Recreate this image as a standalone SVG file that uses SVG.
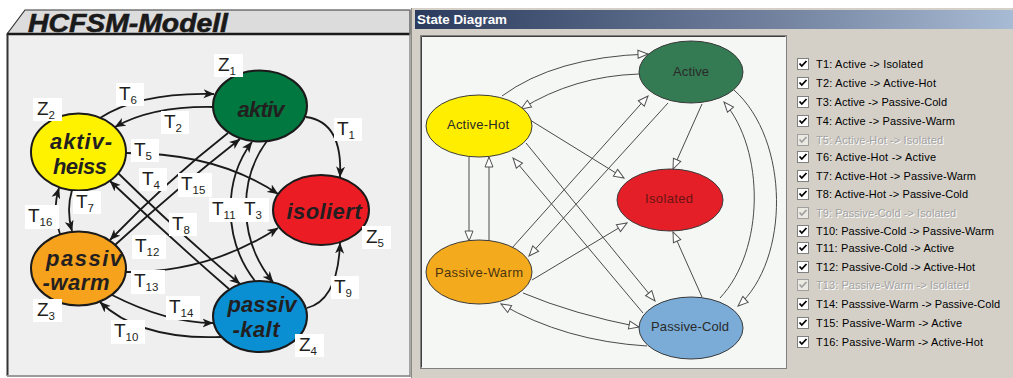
<svg xmlns="http://www.w3.org/2000/svg" width="1013" height="378" viewBox="0 0 1013 378">
<defs>
  <linearGradient id="tb" x1="0" x2="1" y1="0" y2="0">
    <stop offset="0" stop-color="#2b3b5d"/>
    <stop offset="0.6" stop-color="#71819e"/>
    <stop offset="1" stop-color="#a8bbd4"/>
  </linearGradient>
  <marker id="ab" markerUnits="userSpaceOnUse" markerWidth="12" markerHeight="10" refX="10.5" refY="5" orient="auto">
    <path d="M0,0.5 L11,5 L0,9.5 L3,5 z" fill="#1a1a1a"/>
  </marker>
  <marker id="ah" markerUnits="userSpaceOnUse" markerWidth="13" markerHeight="11" refX="11" refY="5.5" orient="auto">
    <path d="M1,1.5 L11,5.5 L1,9.5 z" fill="#ffffff" stroke="#505050" stroke-width="1"/>
  </marker>
  <path id="chk" d="M2.5,5.5 L4.8,8 L9.5,3" fill="none" stroke-width="1.8"/>
</defs>
<style>
  .le{fill:none;stroke:#1a1a1a;stroke-width:1.8;marker-end:url(#ab)}
  .re{fill:none;stroke:#4a4a4a;stroke-width:1;marker-end:url(#ah)}
  .ln{stroke:#1a1a1a;stroke-width:2}
  .nl{font-family:"Liberation Sans",Arial,sans-serif;font-weight:bold;font-style:italic;font-size:22px;fill:#231f20;text-anchor:middle}
  .lb{fill:#ffffff}
  .lt{font-family:"Liberation Sans",Arial,sans-serif;font-size:19px;fill:#231f20}
  .sb{font-size:11.5px}
  .rn{stroke:#3a3a3a;stroke-width:1}
  .rt{font-family:"Liberation Sans",Arial,sans-serif;font-size:13px;fill:#2a2a2a;text-anchor:middle}
  .it{font-family:"Liberation Sans",Arial,sans-serif;font-size:11px;fill:#000000}
  .dis{fill:#a3a3a3}
  .sh{fill:#ffffff}
  .cb{fill:#ffffff;stroke:#808080;stroke-width:1}
  .cbd{fill:#ece9e2;stroke:#a0a0a0;stroke-width:1}
</style>

<rect x="0" y="0" width="1013" height="378" fill="#ffffff"/>

<g id="left-panel">
  <rect x="7" y="34" width="403" height="342" fill="#efefef"/>
  <polygon points="7,34 25,10 410,10 410,34" fill="#dcdcdc" stroke="#333333" stroke-width="1.2"/>
  <line x1="7" y1="34" x2="410" y2="34" stroke="#1a1a1a" stroke-width="2.5"/>
  <line x1="7.5" y1="34" x2="7.5" y2="376" stroke="#333333" stroke-width="2"/>
  <line x1="7" y1="376" x2="410" y2="376" stroke="#9a9a9a" stroke-width="2"/>
  <line x1="410" y1="10" x2="410" y2="377" stroke="#8a8a8a" stroke-width="1.5"/>
  <text x="28" y="32" font-family="'Liberation Sans',Arial,sans-serif" font-size="26" font-weight="bold" font-style="italic" fill="#1a1a1a" stroke="#1a1a1a" stroke-width="0.6" textLength="200" lengthAdjust="spacingAndGlyphs">HCFSM-Modell</text>
</g>

<g id="left-connectors">
  <path id="lT1" class="le" d="M306,117 Q343,122 340,177"/>
  <path id="lT2" class="le" d="M213,107 Q152,106 115,127"/>
  <path id="lT3" class="le" d="M267,141 C238,180 238,240 273,282"/>
  <path id="lT4" class="le" d="M228,133 Q168,180 110,240"/>
  <path id="lT5" class="le" d="M126,153 Q217,153 278,194"/>
  <path id="lT6" class="le" d="M100,118 Q140,92 214,94"/>
  <path id="lT7" class="le" d="M72,190 Q66,210 72,231"/>
  <path id="lT8" class="le" d="M118,173 Q178,232 240,284"/>
  <path id="lT9" class="le" d="M307,308 Q338,300 340,243"/>
  <path id="lT10" class="le" d="M221,337 Q140,340 100,302"/>
  <path id="lT11" class="le" d="M255,281 C223,240 223,180 252,142"/>
  <path id="lT12" class="le" d="M229,289 Q168,236 110,181"/>
  <path id="lT13" class="le" d="M126,272 Q208,273 278,228"/>
  <path id="lT14" class="le" d="M112,295 Q167,323 213,323"/>
  <path id="lT15" class="le" d="M115,245 Q175,190 240,139"/>
  <path id="lT16" class="le" d="M60,234 Q52,210 59,188"/>
</g>

<g id="node-aktiv">
  <ellipse cx="260" cy="106" rx="47" ry="35.5" fill="#00783f" class="ln"/>
  <text class="nl" x="261" y="117" textLength="47">aktiv</text>
  <rect class="lb" x="214" y="54" width="29" height="23"/>
  <text class="lt" x="218" y="71">Z<tspan class="sb" dy="4">1</tspan></text>
</g>
<g id="node-aktiv-heiss">
  <ellipse cx="78.5" cy="152" rx="47.5" ry="38.5" fill="#fff200" class="ln"/>
  <text class="nl" x="81" y="149" textLength="62">aktiv-</text>
  <text class="nl" x="80" y="174" textLength="54">heiss</text>
  <rect class="lb" x="33" y="98" width="29" height="23"/>
  <text class="lt" x="37" y="115">Z<tspan class="sb" dy="4">2</tspan></text>
</g>
<g id="node-isoliert">
  <ellipse cx="321" cy="210" rx="48" ry="35" fill="#ec1c24" class="ln"/>
  <text class="nl" x="324" y="219" textLength="75">isoliert</text>
  <rect class="lb" x="362" y="226" width="29" height="23"/>
  <text class="lt" x="366" y="243">Z<tspan class="sb" dy="4">5</tspan></text>
</g>
<g id="node-passiv-warm">
  <ellipse cx="78.5" cy="268.5" rx="47.5" ry="37" fill="#f6a21d" class="ln"/>
  <text class="nl" x="84" y="266" textLength="76">passiv</text>
  <text class="nl" x="76" y="290" textLength="67">-warm</text>
  <rect class="lb" x="33" y="299" width="29" height="23"/>
  <text class="lt" x="37" y="316">Z<tspan class="sb" dy="4">3</tspan></text>
</g>
<g id="node-passiv-kalt">
  <ellipse cx="260" cy="316.5" rx="47" ry="35.5" fill="#0b8fd3" class="ln"/>
  <text class="nl" x="262" y="312" textLength="69">passiv</text>
  <text class="nl" x="256" y="337" textLength="47">-kalt</text>
  <rect class="lb" x="295" y="334" width="29" height="23"/>
  <text class="lt" x="299" y="351">Z<tspan class="sb" dy="4">4</tspan></text>
</g>

<g id="left-edge-labels">
  <rect class="lb" x="116" y="83" width="28" height="23"/><text class="lt" x="119" y="100">T<tspan class="sb" dy="4">6</tspan></text>
  <rect class="lb" x="161" y="111" width="28" height="23"/><text class="lt" x="164" y="128">T<tspan class="sb" dy="4">2</tspan></text>
  <rect class="lb" x="334" y="118" width="28" height="23"/><text class="lt" x="337" y="135">T<tspan class="sb" dy="4">1</tspan></text>
  <rect class="lb" x="131" y="139" width="28" height="23"/><text class="lt" x="134" y="156">T<tspan class="sb" dy="4">5</tspan></text>
  <rect class="lb" x="139" y="168" width="28" height="23"/><text class="lt" x="142" y="185">T<tspan class="sb" dy="4">4</tspan></text>
  <rect class="lb" x="178" y="173" width="34" height="24"/><text class="lt" x="181" y="190">T<tspan class="sb" dy="4">15</tspan></text>
  <rect class="lb" x="209" y="198" width="34" height="24"/><text class="lt" x="212" y="215">T<tspan class="sb" dy="4">11</tspan></text>
  <rect class="lb" x="242" y="198" width="27" height="24"/><text class="lt" x="244" y="215">T<tspan class="sb" dy="4">3</tspan></text>
  <rect class="lb" x="73" y="191" width="28" height="23"/><text class="lt" x="76" y="208">T<tspan class="sb" dy="4">7</tspan></text>
  <rect class="lb" x="25" y="205" width="34" height="24"/><text class="lt" x="28" y="222">T<tspan class="sb" dy="4">16</tspan></text>
  <rect class="lb" x="169" y="213" width="28" height="23"/><text class="lt" x="172" y="230">T<tspan class="sb" dy="4">8</tspan></text>
  <rect class="lb" x="132" y="235" width="34" height="24"/><text class="lt" x="135" y="252">T<tspan class="sb" dy="4">12</tspan></text>
  <rect class="lb" x="131" y="270" width="34" height="24"/><text class="lt" x="134" y="287">T<tspan class="sb" dy="4">13</tspan></text>
  <rect class="lb" x="166" y="296" width="34" height="24"/><text class="lt" x="169" y="313">T<tspan class="sb" dy="4">14</tspan></text>
  <rect class="lb" x="111" y="320" width="34" height="24"/><text class="lt" x="114" y="337">T<tspan class="sb" dy="4">10</tspan></text>
  <rect class="lb" x="331" y="276" width="28" height="23"/><text class="lt" x="334" y="293">T<tspan class="sb" dy="4">9</tspan></text>
</g>

<g id="right-panel">
  <rect x="411" y="8" width="602" height="370" fill="#d4d0c8"/>
  <line x1="411.5" y1="8" x2="411.5" y2="378" stroke="#8c8a85" stroke-width="1"/>
  <rect x="415" y="10" width="598" height="19" fill="url(#tb)"/>
  <text x="417" y="24" font-family="'Liberation Sans',Arial,sans-serif" font-size="13" font-weight="bold" fill="#ffffff" textLength="90" lengthAdjust="spacingAndGlyphs">State Diagram</text>
  <rect x="420.5" y="35.5" width="366" height="333" fill="#f5f7f5" stroke="#808080" stroke-width="1"/>
  <line x1="421.5" y1="36.5" x2="785.5" y2="36.5" stroke="#404040" stroke-width="1"/>
  <line x1="421.5" y1="36.5" x2="421.5" y2="367.5" stroke="#404040" stroke-width="1"/>
</g>

<g id="right-connectors">
  <path id="rT1" class="re" d="M702,104 L673,169"/>
  <path id="rT2" class="re" d="M639,74 Q574,76 521,109"/>
  <path id="rT3" class="re" d="M734,90 C790,140 790,260 738,306"/>
  <path id="rT4" class="re" d="M668,103 L529,256"/>
  <path id="rT5" class="re" d="M530,120 L624,178"/>
  <path id="rT6" class="re" d="M502,96 Q555,57 648,54"/>
  <path id="rT7" class="re" d="M469,157 L469,241"/>
  <path id="rT8" class="re" d="M526,143 L655,301"/>
  <path id="rT9" class="re" d="M702,297 L673,232"/>
  <path id="rT10" class="re" d="M647,346 Q565,341 501,304"/>
  <path id="rT11" class="re" d="M720,298 C765,250 765,150 724,102"/>
  <path id="rT12" class="re" d="M643,313 L513,158"/>
  <path id="rT13" class="re" d="M532,280 L627,223"/>
  <path id="rT14" class="re" d="M523,293 Q573,314 639,327"/>
  <path id="rT15" class="re" d="M512,248 L648,96"/>
  <path id="rT16" class="re" d="M489,241 L489,157"/>
</g>

<g id="node-Active">
  <ellipse class="rn" cx="691" cy="72" rx="52" ry="31" fill="#347a53"/>
  <text class="rt" x="691" y="76" textLength="36">Active</text>
</g>
<g id="node-Active-Hot">
  <ellipse class="rn" cx="479" cy="126" rx="53" ry="31" fill="#ffee00"/>
  <text class="rt" x="478" y="129" textLength="62">Active-Hot</text>
</g>
<g id="node-Isolated">
  <ellipse class="rn" cx="670" cy="200" rx="53" ry="31" fill="#e51f27"/>
  <text class="rt" x="669" y="203" textLength="48" style="fill:#6a1414">Isolated</text>
</g>
<g id="node-Passive-Warm">
  <ellipse class="rn" cx="479" cy="272" rx="53" ry="32" fill="#f4aa1d"/>
  <text class="rt" x="479" y="277" textLength="88" style="fill:#4a3510">Passive-Warm</text>
</g>
<g id="node-Passive-Cold">
  <ellipse class="rn" cx="691" cy="328" rx="52" ry="31" fill="#7aacd7"/>
  <text class="rt" x="690" y="331" textLength="78">Passive-Cold</text>
</g>

<g id="transition-list">
  <g transform="translate(797,58)"><rect class="cb" x="0.5" y="0.5" width="11" height="11"/><use href="#chk" stroke="#000"/></g>
  <text class="it" x="816" y="68" textLength="107">T1: Active -&gt; Isolated</text>
  <g transform="translate(797,77)"><rect class="cb" x="0.5" y="0.5" width="11" height="11"/><use href="#chk" stroke="#000"/></g>
  <text class="it" x="816" y="87" textLength="120">T2: Active -&gt; Active-Hot</text>
  <g transform="translate(797,96)"><rect class="cb" x="0.5" y="0.5" width="11" height="11"/><use href="#chk" stroke="#000"/></g>
  <text class="it" x="816" y="106" textLength="131">T3: Active -&gt; Passive-Cold</text>
  <g transform="translate(797,115)"><rect class="cb" x="0.5" y="0.5" width="11" height="11"/><use href="#chk" stroke="#000"/></g>
  <text class="it" x="816" y="125" textLength="139">T4: Active -&gt; Passive-Warm</text>
  <g transform="translate(797,134)"><rect class="cbd" x="0.5" y="0.5" width="11" height="11"/><use href="#chk" stroke="#a0a0a0"/></g>
  <text class="it sh" x="817" y="145" textLength="127">T5: Active-Hot -&gt; Isolated</text>
  <text class="it dis" x="816" y="144" textLength="127">T5: Active-Hot -&gt; Isolated</text>
  <g transform="translate(797,151)"><rect class="cb" x="0.5" y="0.5" width="11" height="11"/><use href="#chk" stroke="#000"/></g>
  <text class="it" x="816" y="161" textLength="120">T6: Active-Hot -&gt; Active</text>
  <g transform="translate(797,170)"><rect class="cb" x="0.5" y="0.5" width="11" height="11"/><use href="#chk" stroke="#000"/></g>
  <text class="it" x="816" y="180" textLength="160">T7: Active-Hot -&gt; Passive-Warm</text>
  <g transform="translate(797,188)"><rect class="cb" x="0.5" y="0.5" width="11" height="11"/><use href="#chk" stroke="#000"/></g>
  <text class="it" x="816" y="198" textLength="152">T8: Active-Hot -&gt; Passive-Cold</text>
  <g transform="translate(797,207)"><rect class="cbd" x="0.5" y="0.5" width="11" height="11"/><use href="#chk" stroke="#a0a0a0"/></g>
  <text class="it sh" x="817" y="218" textLength="140">T9: Passive-Cold -&gt; Isolated</text>
  <text class="it dis" x="816" y="217" textLength="140">T9: Passive-Cold -&gt; Isolated</text>
  <g transform="translate(797,225)"><rect class="cb" x="0.5" y="0.5" width="11" height="11"/><use href="#chk" stroke="#000"/></g>
  <text class="it" x="816" y="235" textLength="178">T10: Passive-Cold -&gt; Passive-Warm</text>
  <g transform="translate(797,242)"><rect class="cb" x="0.5" y="0.5" width="11" height="11"/><use href="#chk" stroke="#000"/></g>
  <text class="it" x="816" y="252" textLength="138">T11: Passive-Cold -&gt; Active</text>
  <g transform="translate(797,261)"><rect class="cb" x="0.5" y="0.5" width="11" height="11"/><use href="#chk" stroke="#000"/></g>
  <text class="it" x="816" y="271" textLength="159">T12: Passive-Cold -&gt; Active-Hot</text>
  <g transform="translate(797,279)"><rect class="cbd" x="0.5" y="0.5" width="11" height="11"/><use href="#chk" stroke="#a0a0a0"/></g>
  <text class="it sh" x="817" y="290" textLength="153">T13: Passive-Warm -&gt; Isolated</text>
  <text class="it dis" x="816" y="289" textLength="153">T13: Passive-Warm -&gt; Isolated</text>
  <g transform="translate(797,298)"><rect class="cb" x="0.5" y="0.5" width="11" height="11"/><use href="#chk" stroke="#000"/></g>
  <text class="it" x="816" y="308" textLength="184">T14: Passsive-Warm -&gt; Passive-Cold</text>
  <g transform="translate(797,317)"><rect class="cb" x="0.5" y="0.5" width="11" height="11"/><use href="#chk" stroke="#000"/></g>
  <text class="it" x="816" y="327" textLength="146">T15: Passive-Warm -&gt; Active</text>
  <g transform="translate(797,336)"><rect class="cb" x="0.5" y="0.5" width="11" height="11"/><use href="#chk" stroke="#000"/></g>
  <text class="it" x="816" y="346" textLength="167">T16: Passive-Warm -&gt; Active-Hot</text>
</g>
</svg>
